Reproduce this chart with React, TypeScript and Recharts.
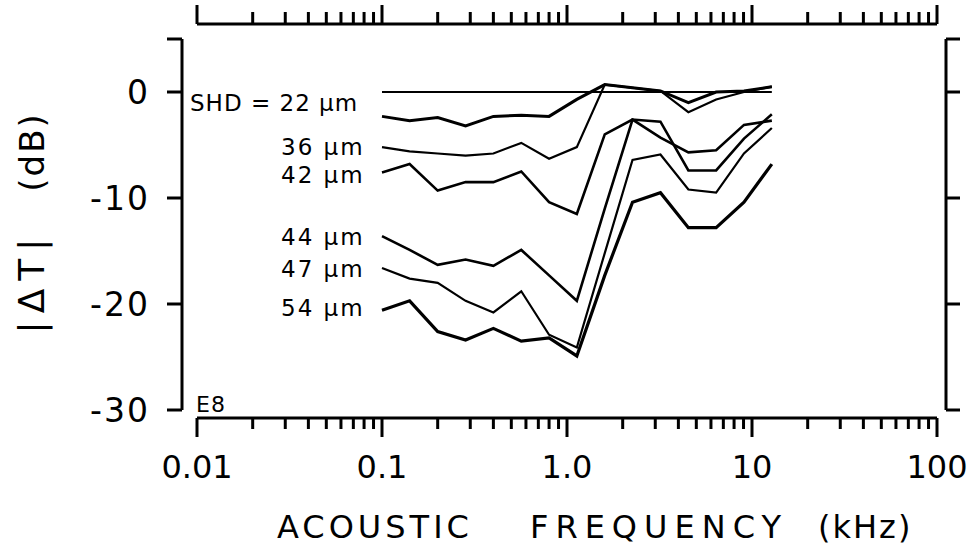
import { LineChart, Line, XAxis, YAxis } from "recharts";

const FONT = "'DejaVu Sans', sans-serif";

// frequencies in kHz (half-octave steps)
const freqs = [0.1, 0.141, 0.2, 0.283, 0.4, 0.566, 0.8, 1.13, 1.6, 2.26, 3.2, 4.53, 6.4, 9.05, 12.8];

const baseline = [0, 0, 0, 0, 0, 0, 0, 0, 0, 0, 0, 0, 0, 0, 0];
const shd22 = [-2.3, -2.7, -2.4, -3.2, -2.3, -2.2, -2.3, -0.7, 0.7, 0.4, 0.1, -1.0, 0.0, 0.1, 0.5];
const shd36 = [-5.2, -5.6, -5.8, -6.0, -5.8, -4.8, -6.3, -5.2, 0.7, 0.4, 0.1, -1.9, -0.7, 0.0, 0.5];
const shd42 = [-7.6, -6.8, -9.3, -8.5, -8.5, -7.5, -10.4, -11.5, -4.0, -2.6, -4.3, -5.7, -5.5, -3.1, -2.7];
const shd44 = [-13.6, -14.9, -16.3, -15.8, -16.4, -14.9, -17.3, -19.7, -11.0, -2.6, -2.8, -7.4, -7.4, -4.4, -2.1];
const shd47 = [-16.6, -17.6, -18.0, -19.7, -20.8, -18.8, -22.9, -24.1, -15.2, -6.4, -5.9, -9.2, -9.5, -5.8, -3.4];
const shd54 = [-20.6, -19.7, -22.6, -23.4, -22.3, -23.5, -23.2, -24.9, -17.3, -10.4, -9.5, -12.8, -12.8, -10.4, -6.8];

const seriesLabels = ["SHD = 22 μm", "36 μm", "42 μm", "44 μm", "47 μm", "54 μm"];

const decades = [0.01, 0.1, 1, 10];
const multipliers = [1, 2, 3, 4, 5, 6, 7, 8, 9];
const xMajor = [0.01, 0.1, 1, 10, 100];
const xMajorLabels = ["0.01", "0.1", "1.0", "10", "100"];
const xTicks = [...decades.flatMap((d) => multipliers.map((m) => +(d * m).toPrecision(3))), 100];

const yTicks = [5, 0, -10, -20, -30];
const yTickLabels = ["", "0", "-10", "-20", "-30"];

const data = freqs.map((f, i) => ({
  f,
  base: baseline[i],
  s22: shd22[i],
  s36: shd36[i],
  s42: shd42[i],
  s44: shd44[i],
  s47: shd47[i],
  s54: shd54[i],
}));

const majorIndex = (v: number) => xMajor.findIndex((m) => Math.abs(m - v) < m * 1e-6);

function BottomTick({ x, y, payload }: any) {
  const idx = majorIndex(payload.value);
  const major = idx >= 0;
  return (
    <g>
      <line x1={x} y1={y} x2={x} y2={y + (major ? 19 : 11)} stroke="#000" strokeWidth={3} />
      {major && (
        <text x={x} y={y + 60} textAnchor="middle" fontSize={32} fontFamily={FONT} fill="#000">
          {xMajorLabels[idx]}
        </text>
      )}
    </g>
  );
}

function TopTick({ x, y, payload }: any) {
  const major = majorIndex(payload.value) >= 0;
  return <line x1={x} y1={y} x2={x} y2={y - (major ? 19 : 12)} stroke="#000" strokeWidth={3} />;
}

function LeftTick({ x, y, payload }: any) {
  const label = yTickLabels[yTicks.indexOf(payload.value)];
  return (
    <g>
      <line x1={x} y1={y} x2={x - 15} y2={y} stroke="#000" strokeWidth={3} />
      <text x={x - 32} y={y + 12} textAnchor="end" fontSize={33} fontFamily={FONT} letterSpacing={2} fill="#000">
        {label}
      </text>
    </g>
  );
}

function RightTick({ x, y }: any) {
  return <line x1={x} y1={y} x2={x + 14} y2={y} stroke="#000" strokeWidth={3} />;
}

// stable props; spacer axis ids sort before the framed axes so they sit next to the plot
const axisLine = { stroke: "#000", strokeWidth: 3 };
const gapDomain = [0, 1];
const xDomain = [0.01, 100];
const yDomain = [-30, 5];
const bottomTick = <BottomTick />;
const topTick = <TopTick />;
const leftTick = <LeftTick />;
const rightTick = <RightTick />;
const chartMargin = { top: 0, right: 0, bottom: 0, left: 0 };

export default function App() {
  const annot = { fontFamily: FONT, fontSize: 23, fill: "#000", letterSpacing: 2 };
  return (
    <div style={{ position: "fixed", left: 0, top: 0, width: 979, height: 555, background: "#fff" }}>
      <LineChart width={979} height={555} data={data} margin={chartMargin}>
        <XAxis xAxisId="a" orientation="bottom" height={8} type="number" domain={gapDomain} tick={false} tickLine={false} axisLine={false} />
        <XAxis
          xAxisId="b"
          orientation="bottom"
          height={137}
          dataKey="f"
          type="number"
          scale="log"
          domain={xDomain}
          allowDataOverflow
          ticks={xTicks}
          interval={0}
          tickSize={0}
          tickMargin={0}
          tickLine={false}
          tick={bottomTick}
          axisLine={axisLine}
        />
        <XAxis xAxisId="gapT" orientation="top" height={15} type="number" domain={gapDomain} tick={false} tickLine={false} axisLine={false} />
        <XAxis
          xAxisId="t"
          orientation="top"
          height={24}
          dataKey="f"
          type="number"
          scale="log"
          domain={xDomain}
          allowDataOverflow
          ticks={xTicks}
          interval={0}
          tickSize={0}
          tickMargin={0}
          tickLine={false}
          tick={topTick}
          axisLine={axisLine}
        />
        <YAxis yAxisId="gapL" orientation="left" width={15} type="number" domain={gapDomain} tick={false} tickLine={false} axisLine={false} />
        <YAxis
          yAxisId="l"
          orientation="left"
          width={182}
          type="number"
          domain={yDomain}
          allowDataOverflow
          ticks={yTicks}
          interval={0}
          tickSize={0}
          tickMargin={0}
          tickLine={false}
          tick={leftTick}
          axisLine={axisLine}
        />
        <YAxis yAxisId="gapR" orientation="right" width={9} type="number" domain={gapDomain} tick={false} tickLine={false} axisLine={false} />
        <YAxis
          yAxisId="r"
          orientation="right"
          width={33}
          type="number"
          domain={yDomain}
          allowDataOverflow
          ticks={yTicks}
          interval={0}
          tickSize={0}
          tickMargin={0}
          tickLine={false}
          tick={rightTick}
          axisLine={axisLine}
        />

        <Line xAxisId="b" yAxisId="l" dataKey="base" stroke="#000" strokeWidth={2} dot={false} isAnimationActive={false} />
        <Line xAxisId="b" yAxisId="l" dataKey="s22" stroke="#000" strokeWidth={3} dot={false} isAnimationActive={false} strokeLinejoin="miter" />
        <Line xAxisId="b" yAxisId="l" dataKey="s36" stroke="#000" strokeWidth={2.2} dot={false} isAnimationActive={false} strokeLinejoin="miter" />
        <Line xAxisId="b" yAxisId="l" dataKey="s42" stroke="#000" strokeWidth={2.6} dot={false} isAnimationActive={false} strokeLinejoin="miter" />
        <Line xAxisId="b" yAxisId="l" dataKey="s44" stroke="#000" strokeWidth={2.6} dot={false} isAnimationActive={false} strokeLinejoin="miter" />
        <Line xAxisId="b" yAxisId="l" dataKey="s47" stroke="#000" strokeWidth={2.2} dot={false} isAnimationActive={false} strokeLinejoin="miter" />
        <Line xAxisId="b" yAxisId="l" dataKey="s54" stroke="#000" strokeWidth={3.2} dot={false} isAnimationActive={false} strokeLinejoin="miter" />

        <text x={190} y={111} {...annot} letterSpacing={1}>{seriesLabels[0]}</text>
        <text x={281} y={155} {...annot}>{seriesLabels[1]}</text>
        <text x={281} y={183} {...annot}>{seriesLabels[2]}</text>
        <text x={281} y={245} {...annot}>{seriesLabels[3]}</text>
        <text x={281} y={277} {...annot}>{seriesLabels[4]}</text>
        <text x={281} y={316} {...annot}>{seriesLabels[5]}</text>
        <text x={196} y={412} fontFamily={FONT} fontSize={22} letterSpacing={1} fill="#000">E8</text>

        <text x={277} y={538} fontFamily={FONT} fontSize={32} letterSpacing={4} fill="#000">ACOUSTIC</text>
        <text x={530} y={538} fontFamily={FONT} fontSize={32} letterSpacing={7} fill="#000">FREQUENCY</text>
        <text x={818} y={538} fontFamily={FONT} fontSize={32} letterSpacing={2} fill="#000">(kHz)</text>

        <text transform="translate(44,152) rotate(-90)" textAnchor="middle" fontFamily={FONT} fontSize={34} letterSpacing={2} fill="#000">(dB)</text>
        <text transform="translate(44,282) rotate(-90)" textAnchor="middle" fontFamily={FONT} fontSize={36} letterSpacing={8} fill="#000">|ΔT|</text>
      </LineChart>
    </div>
  );
}
